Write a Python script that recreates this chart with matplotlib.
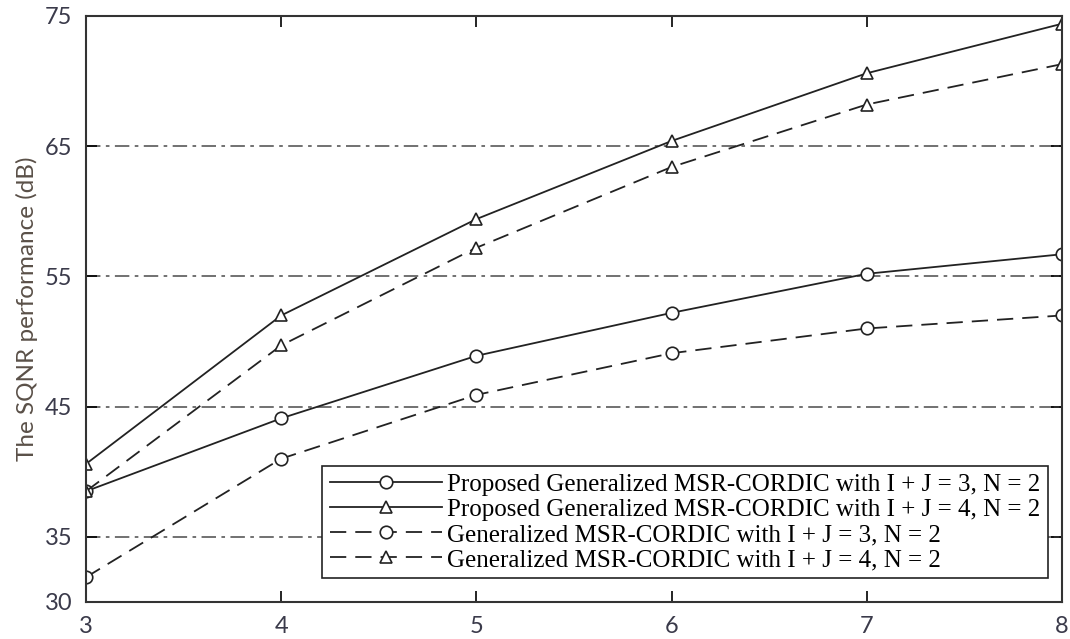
import matplotlib
matplotlib.use("Agg")
import matplotlib.pyplot as plt
import numpy as np

# word length / stage index on x axis
stages = [3, 4, 5, 6, 7, 8]

# SQNR (dB)
prop_ij3 = [38.5, 44.1, 48.9, 52.2, 55.2, 56.7]
prop_ij4 = [40.6, 52.0, 59.4, 65.4, 70.6, 74.4]
gen_ij3 = [31.9, 41.0, 45.9, 49.1, 51.0, 52.0]
gen_ij4 = [38.5, 49.7, 57.2, 63.4, 68.2, 71.3]

labels = [
    "Proposed Generalized MSR-CORDIC with I + J = 3, N = 2",
    "Proposed Generalized MSR-CORDIC with I + J = 4, N = 2",
    "Generalized MSR-CORDIC with I + J = 3, N = 2",
    "Generalized MSR-CORDIC with I + J = 4, N = 2",
]

yticks = [30, 35, 45, 55, 65, 75]
grid_levels = [35, 45, 55, 65]

fig = plt.figure(figsize=(10.7, 6.39), dpi=100)
ax = fig.add_axes([0.0804, 0.058, 0.912, 0.917])

line_kw = dict(color="#222222", lw=1.3, mfc="white", mec="#222222", ms=9, mew=1.2)
dash = (0, (9, 5))
ax.plot(stages, prop_ij3, "-", marker="o", label=labels[0], **line_kw)
ax.plot(stages, prop_ij4, "-", marker="^", label=labels[1], **line_kw)
ax.plot(stages, gen_ij3, linestyle=dash, marker="o", label=labels[2], **line_kw)
ax.plot(stages, gen_ij4, linestyle=dash, marker="^", label=labels[3], **line_kw)

for g in grid_levels:
    ax.axhline(g, color="#666666", lw=1.3, linestyle=(0, (8, 3, 2, 3)), zorder=0)

ax.set_xlim(3, 8)
ax.set_ylim(30, 75)
ax.set_xticks(stages)
ax.set_yticks(yticks)
ax.tick_params(direction="in", top=True, right=True, length=8, width=1.2,
               labelsize=17, labelcolor="#3a3a4a", pad=10)
for lab in ax.get_xticklabels() + ax.get_yticklabels():
    lab.set_family("Lato")
for sp in ax.spines.values():
    sp.set_linewidth(1.5)
    sp.set_color("#333333")

ax.set_ylabel("The SQNR performance (dB)", family="Lato", fontsize=17.5,
              color="#5a5048", labelpad=5)

leg = ax.legend(loc="lower right", bbox_to_anchor=(0.986, 0.04), fancybox=False,
                edgecolor="#222222", framealpha=1, handlelength=4.5,
                prop={"family": "Liberation Serif", "size": 18},
                labelspacing=0.1, borderpad=0.3, handletextpad=0.2,
                borderaxespad=0)
leg.get_frame().set_linewidth(1.2)

fig.savefig("out.png", dpi=100)
